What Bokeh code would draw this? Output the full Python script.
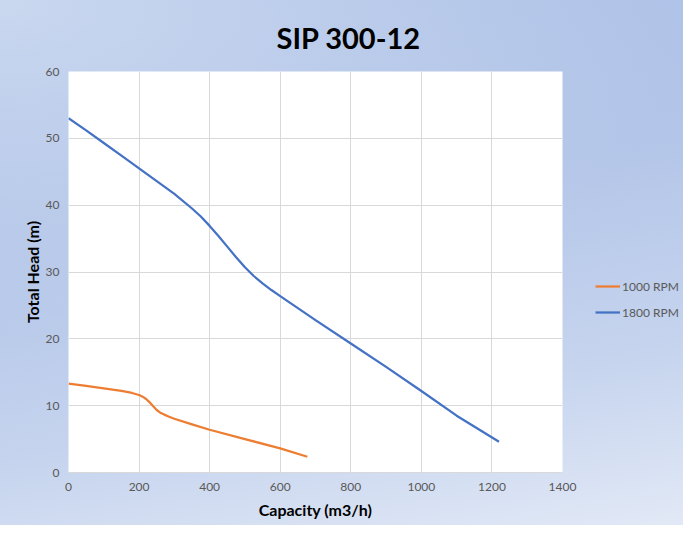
from bokeh.plotting import figure
from bokeh.models import FixedTicker, Legend, LegendItem, Title
from bokeh.embed import file_html
from bokeh.resources import INLINE

# Data
cap_1000 = [0, 50, 100, 150, 180, 200, 210, 220, 230, 240, 250, 260, 270, 285, 300, 350, 400, 500, 600, 677]
head_1000 = [13.3, 12.95, 12.6, 12.2, 11.9, 11.6, 11.35, 11.0, 10.5, 9.9, 9.35, 8.95, 8.7, 8.35, 8.05, 7.2, 6.4, 5.0, 3.6, 2.35]

cap_1800 = [0, 50, 100, 150, 200, 250, 300, 350, 375, 400, 425, 450, 475, 500, 525, 550, 575, 600, 700, 800, 900, 1000, 1100, 1220]
head_1800 = [53.0, 51.2, 49.3, 47.4, 45.5, 43.6, 41.7, 39.5, 38.3, 36.9, 35.4, 33.8, 32.2, 30.7, 29.4, 28.3, 27.3, 26.4, 22.8, 19.3, 15.8, 12.2, 8.5, 4.6]

x_ticks = [0, 200, 400, 600, 800, 1000, 1200, 1400]
y_ticks = [0, 10, 20, 30, 40, 50, 60]

FONT = "Lato"
GRAY = "#595959"

p = figure(
    frame_width=494, frame_height=401,
    x_range=(0, 1400), y_range=(0, 60),
    output_backend="svg", toolbar_location=None,
    min_border_left=68, min_border_top=71, min_border_bottom=53, min_border_right=10,
)
p.styles = {
    "background": "radial-gradient(ellipse at 0% 0%, rgba(205,218,240,0.9) 0%, rgba(205,218,240,0) 45%), "
                  "linear-gradient(170deg, #a9bee6 0%, #b3c5e8 35%, #c6d4ee 65%, #eef2fa 100%)"
}
p.border_fill_color = None
p.background_fill_color = "white"
p.outline_line_color = None

title = Title(text="SIP 300-12", align="left", offset=208, text_font=FONT,
              text_font_size="29px", text_font_style="bold", text_color="black", standoff=33)
p.add_layout(title, "above")

p.xaxis.ticker = FixedTicker(ticks=x_ticks)
p.yaxis.ticker = FixedTicker(ticks=y_ticks)
for ax in (p.xaxis[0], p.yaxis[0]):
    ax.major_tick_line_color = None
    ax.minor_tick_line_color = None
    ax.major_label_text_font = FONT
    ax.major_label_text_font_size = "12px"
    ax.major_label_text_color = GRAY
    ax.axis_label_text_font = FONT
    ax.axis_label_text_font_size = "16px"
    ax.axis_label_text_font_style = "bold"
    ax.axis_label_text_color = "black"
p.xaxis.axis_label = "Capacity (m3/h)"
p.yaxis.axis_label = "Total Head (m)"
p.xaxis.axis_line_color = "#d9d9d9"
p.yaxis.axis_line_color = None
p.xaxis.major_label_standoff = 4
p.yaxis.major_label_standoff = 3
p.xaxis.axis_label_standoff = 6
p.yaxis.axis_label_standoff = 1

p.xgrid.ticker = FixedTicker(ticks=x_ticks)
p.ygrid.ticker = FixedTicker(ticks=y_ticks)
p.grid.grid_line_color = "#d9d9d9"
p.grid.grid_line_width = 1

r1 = p.line(cap_1000, head_1000, line_color="#ED7D31", line_width=2.25, line_join="round")
r2 = p.line(cap_1800, head_1800, line_color="#4472C4", line_width=2.25, line_join="round")

legend = Legend(items=[LegendItem(label="1000 RPM", renderers=[r1]),
                       LegendItem(label="1800 RPM", renderers=[r2])],
                location=(33, 150), orientation="vertical")
legend.background_fill_alpha = 0
legend.border_line_color = None
legend.label_text_font = FONT
legend.label_text_font_size = "12px"
legend.label_text_color = GRAY
legend.glyph_width = 25
legend.label_standoff = 2
legend.spacing = 6
legend.padding = 2
legend.margin = 0
p.add_layout(legend, "right")

open("out.html", "w").write(file_html(p, INLINE))
